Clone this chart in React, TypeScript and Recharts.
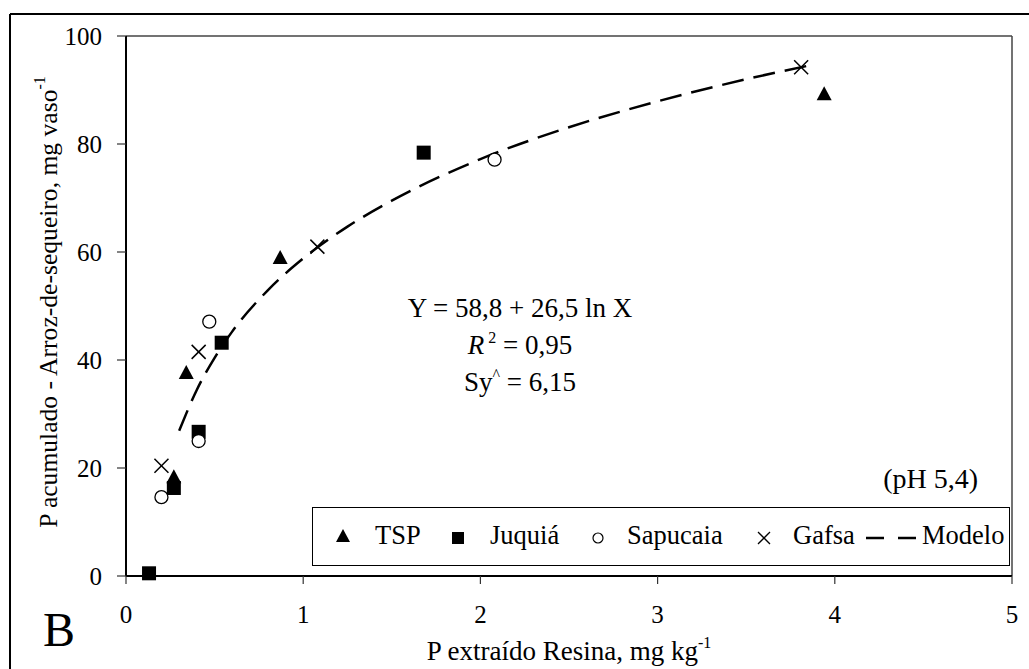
import React from 'react'
import {
  ComposedChart,
  Scatter,
  Line,
  XAxis,
  YAxis,
  ReferenceLine,
  Legend,
  Customized,
} from 'recharts'

// valores
const tspX = [0.27, 0.34, 0.87, 3.94]
const tspY = [18.3, 37.6, 58.9, 89.2]
const juquiaX = [0.13, 0.27, 0.41, 0.54, 1.68]
const juquiaY = [0.5, 16.3, 26.7, 43.2, 78.4]
const sapucaiaX = [0.2, 0.41, 0.47, 2.08]
const sapucaiaY = [14.6, 25.0, 47.1, 77.1]
const gafsaX = [0.2, 0.41, 1.08, 3.81]
const gafsaY = [20.4, 41.5, 61.0, 94.2]
// curva do modelo Y = 58,8 + 26,5 ln X, lida ponto a ponto
const modeloX = [0.3, 0.4, 0.5, 0.6, 0.8, 1.0, 1.25, 1.5, 2.0, 2.5, 3.0, 3.5, 3.85]
const modeloY = [26.9, 34.5, 40.4, 45.3, 52.9, 58.8, 64.7, 69.5, 77.2, 83.1, 87.9, 92.0, 94.5]

const xTicks = [0, 1, 2, 3, 4, 5]
const yTicks = [0, 20, 40, 60, 80, 100]
const legendNames = ['TSP', 'Juquiá', 'Sapucaia', 'Gafsa', 'Modelo']

const zip = (xs: number[], ys: number[]) => xs.map((x, i) => ({ x, y: ys[i] }))

const tsp = zip(tspX, tspY)
const juquia = zip(juquiaX, juquiaY)
const sapucaia = zip(sapucaiaX, sapucaiaY)
const gafsa = zip(gafsaX, gafsaY)
const modelo = zip(modeloX, modeloY)

const FONT = 'Liberation Serif, DejaVu Serif, serif'

const Triangle = ({ cx, cy }: any) => (
  <polygon points={`${cx},${cy - 8} ${cx - 7.5},${cy + 6} ${cx + 7.5},${cy + 6}`} fill="#000" />
)
const Square = ({ cx, cy }: any) => <rect x={cx - 7} y={cy - 7} width={14} height={14} fill="#000" />
const Circle = ({ cx, cy }: any) => (
  <circle cx={cx} cy={cy} r={6.5} fill="#fff" stroke="#000" strokeWidth={1.3} />
)
const Cross = ({ cx, cy }: any) => (
  <g stroke="#000" strokeWidth={1.5}>
    <line x1={cx - 7} y1={cy - 7} x2={cx + 7} y2={cy + 7} />
    <line x1={cx - 7} y1={cy + 7} x2={cx + 7} y2={cy - 7} />
  </g>
)

function LegendBox() {
  const item = { position: 'absolute' as const, top: 12, fontSize: 26.5, lineHeight: '30px' }
  return (
    <div
      style={{
        position: 'relative',
        width: 698,
        height: 59,
        border: '1.5px solid #000',
        boxSizing: 'border-box',
        background: '#fff',
        fontFamily: FONT,
        color: '#000',
      }}
    >
      <svg width={698} height={59} style={{ position: 'absolute', left: 0, top: 0 }}>
        <polygon points="30,21 23,34 37,34" fill="#000" />
        <rect x={139} y={24} width={12} height={12} fill="#000" />
        <circle cx={285} cy={30} r={5} fill="#fff" stroke="#000" strokeWidth={1.2} />
        <g stroke="#000" strokeWidth={1.3}>
          <line x1={445} y1={24} x2={457} y2={36} />
          <line x1={445} y1={36} x2={457} y2={24} />
        </g>
        <line x1={553} y1={30} x2={604} y2={30} stroke="#000" strokeWidth={2.5} strokeDasharray="18 14" />
      </svg>
      <span style={{ ...item, left: 62 }}>{legendNames[0]}</span>
      <span style={{ ...item, left: 177 }}>{legendNames[1]}</span>
      <span style={{ ...item, left: 314 }}>{legendNames[2]}</span>
      <span style={{ ...item, left: 480 }}>{legendNames[3]}</span>
      <span style={{ ...item, left: 609 }}>{legendNames[4]}</span>
    </div>
  )
}

function Annotations() {
  return (
    <g fontFamily={FONT} fill="#000" style={{ whiteSpace: 'pre', fontFamily: FONT }}>
      <line x1={10} y1={14} x2={1029} y2={14} stroke="#000" strokeWidth={2} />
      <line x1={10} y1={14} x2={10} y2={669} stroke="#000" strokeWidth={2} />
      <text x={520} y={317} fontSize={27} textAnchor="middle">
        Y = 58,8 + 26,5 ln X
      </text>
      <text x={520} y={354} fontSize={27} textAnchor="middle">
        <tspan fontStyle="italic">R</tspan>
        <tspan fontSize={16} dy={-11}> 2</tspan>
        <tspan dy={11}> = 0,95</tspan>
      </text>
      <text x={520} y={391} fontSize={27} textAnchor="middle">
        <tspan>Sy</tspan>
        <tspan fontSize={16} dy={-11}>^</tspan>
        <tspan dy={11}> = 6,15</tspan>
      </text>
      <text x={978} y={488} fontSize={28} textAnchor="end">
        (pH 5,4)
      </text>
      <text x={569} y={660} fontSize={27} textAnchor="middle">
        <tspan>P extraído Resina, mg kg</tspan>
        <tspan fontSize={16} dy={-12}>-1</tspan>
      </text>
      <text x={57} y={302} fontSize={25.6} textAnchor="middle" transform="rotate(-90, 57, 302)">
        <tspan>P acumulado - Arroz-de-sequeiro, mg vaso</tspan>
        <tspan fontSize={16} dy={-12}>-1</tspan>
      </text>
      <text x={43} y={646} fontSize={48}>
        B
      </text>
    </g>
  )
}

export default function App() {
  const tick = { fontSize: 25, fill: '#000', fontFamily: FONT, style: { fontFamily: FONT } }
  return (
    <div
      style={{
        position: 'absolute',
        left: 0,
        top: 0,
        width: 1029,
        height: 669,
        background: '#fff',
        fontFamily: FONT,
      }}
    >
      <ComposedChart width={1029} height={669} margin={{ top: 36, right: 17, bottom: 0, left: 0 }}>
        <XAxis
          type="number"
          dataKey="x"
          domain={[0, 5]}
          ticks={xTicks}
          height={93}
          tick={tick}
          tickSize={8}
          tickMargin={21}
          axisLine={{ stroke: '#000', strokeWidth: 2 }}
          tickLine={{ stroke: '#333', strokeWidth: 1.2 }}
        />
        <YAxis
          type="number"
          dataKey="y"
          domain={[0, 100]}
          ticks={yTicks}
          width={126}
          tick={tick}
          tickSize={9}
          tickMargin={15}
          axisLine={{ stroke: '#000', strokeWidth: 2 }}
          tickLine={{ stroke: '#333', strokeWidth: 1.2 }}
        />
        <ReferenceLine y={100} stroke="#444" strokeWidth={1.5} />
        <ReferenceLine x={5} stroke="#444" strokeWidth={1.5} />
        <Line
          data={modelo}
          dataKey="y"
          type="monotone"
          stroke="#000"
          strokeWidth={2.5}
          strokeDasharray="22 10"
          dot={false}
          activeDot={false}
          isAnimationActive={false}
        />
        <Scatter data={tsp} name="TSP" shape={Triangle} isAnimationActive={false} />
        <Scatter data={juquia} name="Juquiá" shape={Square} isAnimationActive={false} />
        <Scatter data={sapucaia} name="Sapucaia" shape={Circle} isAnimationActive={false} />
        <Scatter data={gafsa} name="Gafsa" shape={Cross} isAnimationActive={false} />
        <Legend
          layout="vertical"
          align="center"
          verticalAlign="middle"
          content={() => <LegendBox />}
          wrapperStyle={{ position: 'absolute', left: 312, top: 507, width: 698, height: 59 }}
        />
        <Customized component={Annotations} />
      </ComposedChart>
    </div>
  )
}
